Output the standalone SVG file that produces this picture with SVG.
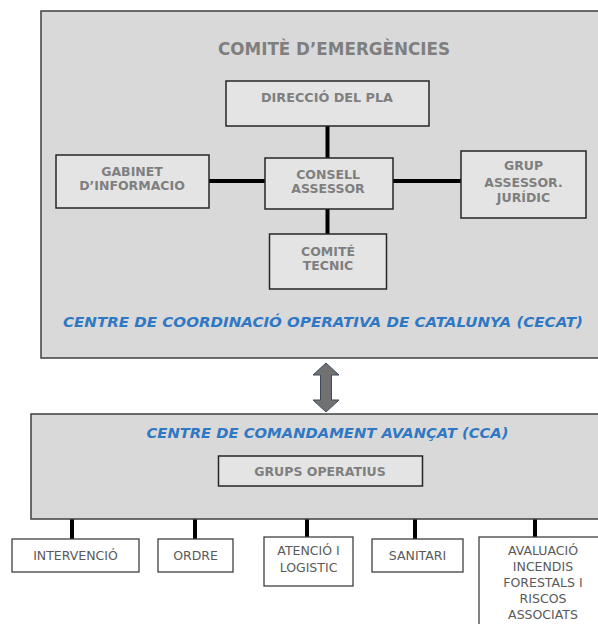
<svg xmlns="http://www.w3.org/2000/svg" width="598" height="624" viewBox="0 0 598 624">
<style>
.panel{fill:#d9d9d9;stroke:#3f3f3f;stroke-width:1.5}
.node{fill:#e4e4e4;stroke:#262626;stroke-width:1.5}
.leaf{fill:#ffffff;stroke:#3f3f3f;stroke-width:1.3}
.nt{font-family:"DejaVu Sans",Verdana,sans-serif;font-weight:bold;font-size:12.5px;fill:#7f7f7f;text-anchor:middle}
.lt{font-family:"DejaVu Sans",Tahoma,sans-serif;font-size:12.5px;fill:#595959;text-anchor:middle}
.blue{font-family:"DejaVu Sans",Verdana,sans-serif;font-weight:bold;font-style:italic;font-size:13.5px;fill:#2f78c4;text-anchor:middle}
.title{font-family:"DejaVu Sans",Tahoma,sans-serif;font-weight:bold;font-size:17px;fill:#7f7f7f;text-anchor:middle}
.conn{stroke:#000;stroke-width:4;fill:none}
</style>
<rect width="598" height="624" fill="#ffffff"/>
<g id="cecat">
<rect class="panel" x="41" y="11" width="570" height="347"/>
<text class="title" x="334" y="55" textLength="232" lengthAdjust="spacingAndGlyphs">COMITÈ D’EMERGÈNCIES</text>
<text class="blue" x="323" y="327" textLength="520" lengthAdjust="spacingAndGlyphs">CENTRE DE COORDINACIÓ OPERATIVA DE CATALUNYA (CECAT)</text>
</g>
<g id="connectors">
<line class="conn" x1="327.5" y1="126" x2="327.5" y2="158"/>
<line class="conn" x1="209" y1="181" x2="265" y2="181"/>
<line class="conn" x1="393" y1="181" x2="461" y2="181"/>
<line class="conn" x1="327.5" y1="209" x2="327.5" y2="234"/>
<line class="conn" x1="72" y1="519" x2="72" y2="539"/>
<line class="conn" x1="195" y1="519" x2="195" y2="539"/>
<line class="conn" x1="307" y1="519" x2="307" y2="537"/>
<line class="conn" x1="415" y1="519" x2="415" y2="539"/>
<line class="conn" x1="535" y1="519" x2="535" y2="537"/>
<path d="M326,363 L339,375 L331.5,375 L331.5,400 L339,400 L326,412 L313,400 L320.5,400 L320.5,375 L313,375 Z" fill="#717171" stroke="#3c4a5c" stroke-width="1"/>
</g>
<g id="direccio">
<rect class="node" x="226" y="81" width="203" height="45"/>
<text class="nt" x="327" y="102" textLength="132" lengthAdjust="spacingAndGlyphs">DIRECCIÓ DEL PLA</text>
</g>
<g id="consell">
<rect class="node" x="265" y="158" width="128" height="51"/>
<text class="nt" x="328" y="179">CONSELL</text>
<text class="nt" x="328" y="193">ASSESSOR</text>
</g>
<g id="gabinet">
<rect class="node" x="56" y="155" width="153" height="53"/>
<text class="nt" x="132" y="176">GABINET</text>
<text class="nt" x="132" y="190">D’INFORMACIO</text>
</g>
<g id="grup">
<rect class="node" x="461" y="151" width="125" height="67"/>
<text class="nt" x="523.5" y="170">GRUP</text>
<text class="nt" x="523.5" y="187">ASSESSOR.</text>
<text class="nt" x="523.5" y="202">JURÍDIC</text>
</g>
<g id="comite-tecnic">
<rect class="node" x="269.5" y="234" width="117" height="55"/>
<text class="nt" x="328" y="256">COMITÉ</text>
<text class="nt" x="328" y="270">TECNIC</text>
</g>
<g id="cca">
<rect class="panel" x="31" y="414" width="580" height="105"/>
<text class="blue" x="327.5" y="438" textLength="362" lengthAdjust="spacingAndGlyphs">CENTRE DE COMANDAMENT AVANÇAT (CCA)</text>
</g>
<g id="grups-operatius">
<rect class="node" x="218.5" y="456" width="204" height="30"/>
<text class="nt" x="320" y="476">GRUPS OPERATIUS</text>
</g>
<g id="intervencio">
<rect class="leaf" x="12" y="539" width="127" height="33"/>
<text class="lt" x="75.5" y="560">INTERVENCIÓ</text>
</g>
<g id="ordre">
<rect class="leaf" x="158" y="539" width="75" height="33"/>
<text class="lt" x="195.5" y="560">ORDRE</text>
</g>
<g id="atencio">
<rect class="leaf" x="264" y="537" width="89" height="49"/>
<text class="lt" x="308.5" y="555">ATENCIÓ I</text>
<text class="lt" x="308.5" y="572">LOGISTIC</text>
</g>
<g id="sanitari">
<rect class="leaf" x="372" y="539" width="91" height="33"/>
<text class="lt" x="417.5" y="560">SANITARI</text>
</g>
<g id="avaluacio">
<rect class="leaf" x="479" y="537" width="130" height="100"/>
<text class="lt" x="543" y="555">AVALUACIÓ</text>
<text class="lt" x="543" y="571">INCENDIS</text>
<text class="lt" x="543" y="587">FORESTALS I</text>
<text class="lt" x="543" y="603">RISCOS</text>
<text class="lt" x="543" y="619">ASSOCIATS</text>
</g>
</svg>
